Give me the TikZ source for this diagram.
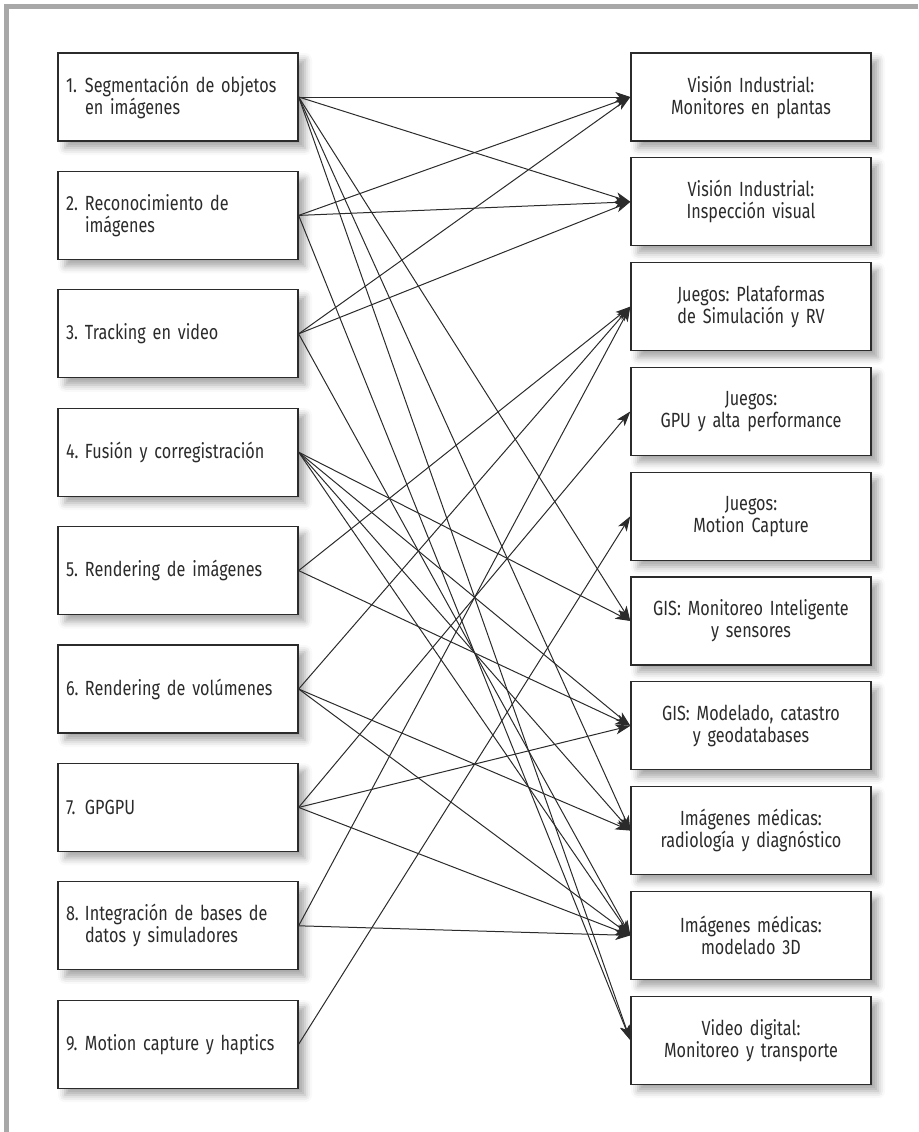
\documentclass[tikz,border=0pt]{standalone}
\usepackage{fontspec}
\setmainfont{Fira Sans}[FakeStretch=0.79]
\usetikzlibrary{arrows.meta,shadows.blur}
\definecolor{framegray}{HTML}{A8A8A8}
\definecolor{ink}{HTML}{2B2B2B}
\newcommand\boxnum[1]{\makebox[19pt][l]{#1}}
\newcommand\boxind{\hspace*{19pt}}
\frenchspacing
\begin{document}
\begin{tikzpicture}[x=1pt,y=-1pt,
  box/.style={draw=ink, line width=1.3pt, fill=white, minimum width=240pt,
    minimum height=88pt, inner sep=0pt, text width=224pt,
    font=\fontsize{20.5}{22}\selectfont\frenchspacing, text=ink,
    blur shadow={shadow xshift=7pt, shadow yshift=-7pt,
      shadow blur radius=7pt, shadow opacity=35}},
  lbox/.style={box, align=left},
  rbox/.style={box, align=center},
  link/.style={draw=ink, line width=1pt,
    -{Stealth[length=15pt,width=10pt,inset=4pt]}}]
\useasboundingbox (0,0) rectangle (918,1132);
% frame bars along the top and left edges
\fill[framegray] (4,4) rectangle (918,9);
\fill[framegray] (4,4) rectangle (9,1132);

% techniques (left column)
\node[lbox] (L1) at (178,97)     {\boxnum{1.}Segmentación de objetos\\\boxind en imágenes};
\node[lbox] (L2) at (178,215.4)  {\boxnum{2.}Reconocimiento de\\\boxind imágenes};
\node[lbox] (L3) at (178,333.8)  {\boxnum{3.}Tracking en video};
\node[lbox] (L4) at (178,452.2)  {\boxnum{4.}Fusión y corregistración};
\node[lbox] (L5) at (178,570.6)  {\boxnum{5.}Rendering de imágenes};
\node[lbox] (L6) at (178,689)    {\boxnum{6.}Rendering de volúmenes};
\node[lbox] (L7) at (178,807.4)  {\boxnum{7.}GPGPU};
\node[lbox] (L8) at (178,925.8)  {\boxnum{8.}Integración de bases de\\\boxind datos y simuladores};
\node[lbox] (L9) at (178,1044.2) {\boxnum{9.}Motion capture y haptics};

% application areas (right column)
\node[rbox] (R1)  at (751,97)     {Visión Industrial:\\Monitores en plantas};
\node[rbox] (R2)  at (751,201.8)  {Visión Industrial:\\Inspección visual};
\node[rbox] (R3)  at (751,306.6)  {Juegos: Plataformas\\de Simulación y RV};
\node[rbox] (R4)  at (751,411.4)  {Juegos:\\GPU y alta performance};
\node[rbox] (R5)  at (751,516.2)  {Juegos:\\Motion Capture};
\node[rbox] (R6)  at (751,621)    {GIS: Monitoreo Inteligente\\y sensores};
\node[rbox] (R7)  at (751,725.8)  {GIS: Modelado, catastro\\y geodatabases};
\node[rbox] (R8)  at (751,830.6)  {Imágenes médicas:\\radiología y diagnóstico};
\node[rbox] (R9)  at (751,935.4)  {Imágenes médicas:\\modelado 3D};
\node[rbox] (R10) at (751,1040.2) {Video digital:\\Monitoreo y transporte};

% links from each technique to its application areas
\foreach \s/\t in {L1/R1,L1/R2,L1/R6,L1/R8,L1/R10,
                   L2/R1,L2/R2,L2/R10,
                   L3/R1,L3/R2,L3/R9,
                   L4/R6,L4/R7,L4/R8,L4/R9,
                   L5/R3,L5/R7,
                   L6/R3,L6/R8,L6/R9,
                   L7/R4,L7/R7,L7/R9,
                   L8/R3,L8/R9,
                   L9/R5}
  \draw[link] (\s.east) -- (\t.west);
\end{tikzpicture}
\end{document}
